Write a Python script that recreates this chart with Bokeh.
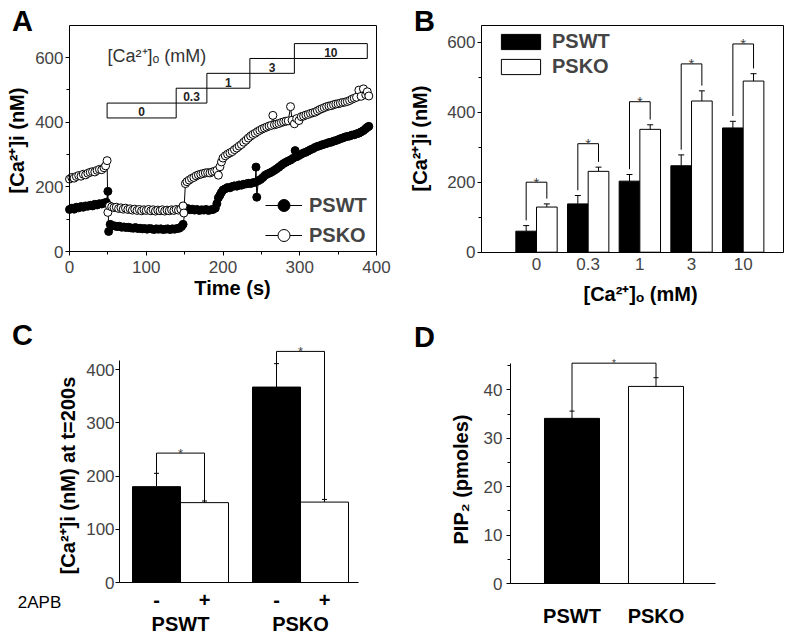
import numpy as np
from bokeh.plotting import figure
from bokeh.models import (Range1d, SingleIntervalTicker, FixedTicker, Label, Legend,
                          LegendItem, ColumnDataSource, Whisker, TeeHead, LinearAxis)
from bokeh.layouts import column, row
from bokeh.embed import file_html
from bokeh.resources import INLINE
from bokeh.core.properties import value

# ---------------- data ----------------
# Panel A: time course of [Ca2+]i (nM)
wt_t = [0, 3, 6, 9, 12, 15, 18, 21, 24, 27, 30, 33, 36, 39, 42, 45, 48, 50, 51, 53, 56, 59, 62, 65, 68,
        71, 74, 77, 80, 83, 86, 89, 92, 95, 98, 101, 104, 107, 110, 113, 116, 119, 122, 125, 128, 131,
        134, 137, 140, 143, 146, 148, 151, 154, 157, 160, 163, 166, 169, 172, 175, 178, 181, 184, 187,
        190, 192, 194, 196, 198, 200, 203, 206, 209, 212, 215, 218, 221, 224, 227, 230, 233, 236, 239,
        242, 243, 244, 246, 249, 252, 255, 258, 261, 264, 267, 270, 273, 276, 279, 282, 285, 288, 291,
        294, 296, 299, 302, 305, 308, 311, 314, 317, 320, 323, 326, 329, 332, 335, 338, 341, 344, 347,
        350, 353, 356, 359, 362, 365, 368, 371, 374, 377, 380, 383, 386, 388, 390]
wt_v = [130, 134, 131, 137, 135, 139, 137, 141, 140, 143, 141, 146, 144, 148, 147, 150, 152, 186, 62, 84,
        80, 79, 77, 78, 75, 76, 74, 75, 73, 72, 74, 71, 72, 70, 71, 69, 71, 70, 68, 70, 69, 70, 68, 69,
        70, 68, 70, 69, 71, 72, 77, 84, 131, 133, 129, 131, 128, 130, 127, 129, 128, 130, 127, 129, 130,
        134, 148, 166, 174, 183, 190, 194, 198, 197, 201, 203, 202, 206, 205, 208, 209, 211, 210, 213,
        214, 261, 168, 219, 223, 229, 236, 240, 243, 247, 251, 256, 261, 267, 272, 276, 280, 283, 288,
        312, 293, 297, 301, 305, 307, 311, 315, 318, 322, 325, 327, 330, 332, 334, 337, 338, 341, 343,
        346, 349, 351, 354, 356, 357, 360, 361, 364, 366, 370, 374, 380, 384, 387]
ko_t = [0, 3, 6, 9, 12, 15, 18, 21, 24, 27, 30, 33, 36, 39, 42, 45, 47, 49, 50, 52, 55, 58, 61, 64, 67,
        70, 73, 76, 79, 82, 85, 88, 91, 94, 97, 100, 103, 106, 109, 112, 115, 118, 121, 124, 127, 130,
        133, 136, 139, 142, 145, 148, 149, 151, 153, 156, 159, 162, 165, 168, 171, 174, 177, 180, 183,
        186, 189, 192, 194, 196, 198, 200, 203, 206, 209, 212, 215, 218, 221, 224, 227, 230, 233, 236,
        239, 242, 245, 248, 251, 254, 257, 260, 263, 265, 267, 270, 273, 276, 279, 282, 285, 288, 290,
        293, 296, 299, 302, 305, 308, 311, 314, 317, 320, 323, 326, 329, 332, 335, 338, 341, 344, 347,
        350, 353, 356, 359, 362, 365, 368, 371, 374, 377, 380, 383, 386, 388, 390]
ko_v = [224, 229, 227, 232, 235, 233, 239, 237, 242, 245, 247, 246, 251, 254, 253, 259, 265, 281, 121,
        141, 138, 136, 137, 133, 135, 131, 134, 130, 132, 128, 131, 127, 130, 126, 129, 127, 130, 126,
        129, 125, 128, 126, 129, 125, 128, 126, 129, 127, 130, 128, 131, 141, 119, 210, 216, 221, 226,
        229, 234, 237, 239, 241, 243, 244, 243, 246, 248, 251, 236, 262, 277, 289, 296, 301, 305, 309,
        315, 320, 326, 331, 338, 344, 351, 357, 362, 366, 371, 375, 379, 382, 385, 388, 390, 421, 392,
        394, 396, 399, 401, 403, 404, 448, 406, 395, 411, 405, 417, 419, 422, 424, 427, 429, 431, 435,
        439, 442, 445, 448, 450, 451, 454, 456, 457, 459, 461, 462, 464, 467, 471, 474, 477, 499, 480,
        503, 485, 494, 481]
# extracellular Ca2+ steps (mM) and their time windows (s)
step_labels = ["0", "0.3", "1", "3", "10"]
step_start = [49, 139, 179, 235, 293]
step_end = [139, 179, 235, 293, 388]

# Panel B: [Ca2+]i (nM) vs [Ca2+]o
ca_levels = ["0", "0.3", "1", "3", "10"]
b_wt = [60, 138, 203, 247, 355]
b_wt_sem = [16, 24, 19, 31, 19]
b_ko = [129, 231, 351, 432, 489]
b_ko_sem = [9, 12, 13, 29, 21]
b_sig = [200, 310, 430, 538, 595]

# Panel C: [Ca2+]i at t=200 s, without / with 2APB
c_groups = ["PSWT", "PSKO"]
c_minus = [180, 367]
c_minus_sem = [25, 44]
c_plus = [150, 151]
c_plus_sem = [3, 5]
c_sig = [243, 434]

# Panel D: PIP2 (pmoles)
d_groups = ["PSWT", "PSKO"]
d_pip2 = [34.1, 40.7]
d_sem = [1.5, 1.8]
d_sig = 45.5

# ---------------- helpers ----------------
FONT = "Liberation Sans"
TICK_COLOR = "#444444"


def lin(p0, p1, d0, d1, px):
    return d0 + (px - p0) * (d1 - d0) / (p1 - p0)


class Panel:
    """A figure whose frame fills the whole figure; px/py are page pixels."""

    def __init__(self, x0, y0, w, h, xmap, ymap):
        self.x0, self.y0, self.w, self.h = x0, y0, w, h
        xr = (lin(*xmap, x0), lin(*xmap, x0 + w))
        yr = (lin(*ymap, y0 + h), lin(*ymap, y0))
        p = figure(width=w, height=h, x_range=Range1d(*xr), y_range=Range1d(*yr),
                   output_backend="svg", toolbar_location=None, min_border=0)
        p.min_border_left = p.min_border_right = p.min_border_top = p.min_border_bottom = 0
        p.title.visible = False
        p.grid.visible = False
        p.outline_line_color = None
        p.background_fill_color = "white"
        p.border_fill_color = "white"
        self.p = p

    def style_axis(self, ax, fixed, bounds):
        ax.fixed_location = fixed
        ax.bounds = bounds
        ax.axis_line_color = "black"
        ax.axis_line_width = 1
        ax.major_tick_line_color = "black"
        ax.minor_tick_line_color = "black"
        ax.major_tick_out = 4
        ax.major_tick_in = 0
        ax.minor_tick_out = 3
        ax.minor_tick_in = 0
        ax.major_label_text_font = FONT
        ax.major_label_text_font_size = "17px"
        ax.major_label_text_color = TICK_COLOR

    def plain_axis(self, side, fixed, bounds):
        ax = LinearAxis(ticker=FixedTicker(ticks=[]), fixed_location=fixed, bounds=bounds,
                        axis_line_color="black", major_tick_line_color=None,
                        minor_tick_line_color=None, major_label_text_font_size="0px")
        self.p.add_layout(ax, side)

    def label(self, px, py, text, size="20px", bold=True, angle=0.0, align="center",
              color="black", data_x=None):
        if data_x is None:
            x, xu = px - self.x0, "screen"
        else:
            x, xu = data_x, "data"
        self.p.add_layout(Label(x=x, y=self.y0 + self.h - py, x_units=xu, y_units="screen",
                                text=text, text_font=FONT, text_font_size=size,
                                text_font_style="bold" if bold else "normal",
                                text_color=color, text_align=align, text_baseline="middle",
                                angle=angle))


def whiskers(p, x, val, sem, head):
    src = ColumnDataSource(dict(x=list(x), lo=list(val),
                                hi=[v + s for v, s in zip(val, sem)]))
    w = Whisker(source=src, base="x", lower="lo", upper="hi", dimension="height",
                line_color="black", line_width=1,
                upper_head=TeeHead(size=head, line_color="black", line_width=1),
                lower_head=None)
    p.add_layout(w)


# ---------------- Panel A ----------------
A = Panel(0, 0, 400, 316, (69, 376, 0, 400), (251, 57, 0, 600))
pA = A.p
A.style_axis(pA.xaxis[0], 0, (0, 400))
A.style_axis(pA.yaxis[0], 0, (0, 699))
pA.xaxis.ticker = SingleIntervalTicker(interval=100, num_minor_ticks=2)
pA.yaxis.ticker = SingleIntervalTicker(interval=200, num_minor_ticks=2)
pA.yaxis.major_label_standoff = 2
A.plain_axis("above", 699, (0, 400))
A.plain_axis("right", 400, (0, 699))

box_b = [413 + 46 * i for i in range(len(step_labels))]
pA.quad(left=step_start, right=step_end, bottom=box_b, top=[b + 46 for b in box_b],
        fill_color=None, line_color="black", line_width=1)
pA.text(x=[(s + e) / 2 for s, e in zip(step_start, step_end)], y=[b + 19 for b in box_b],
        text=step_labels, text_font=value(FONT), text_font_size="12px",
        text_font_style="bold", text_align="center", text_baseline="middle",
        text_color="#222222")

wt_line = pA.line(wt_t, wt_v, line_color="black", line_width=1)
wt_pts = pA.scatter(wt_t, wt_v, size=8, marker="circle", fill_color="black",
                    line_color="black", line_width=1)
ko_line = pA.line(ko_t, ko_v, line_color="black", line_width=1)
ko_pts = pA.scatter(ko_t, ko_v, size=8, marker="circle", fill_color="white",
                    line_color="black", line_width=1)

legA = Legend(items=[LegendItem(label="PSWT", renderers=[wt_line, wt_pts]),
                     LegendItem(label="PSKO", renderers=[ko_line, ko_pts])],
              location=(265, 316 - 250), glyph_width=37, glyph_height=30, label_height=30,
              spacing=-8, padding=0, margin=0, label_standoff=7,
              label_text_font=FONT, label_text_font_size="20px",
              label_text_font_style="bold", background_fill_alpha=0,
              border_line_color=None)
pA.add_layout(legA)

A.label(107, 55, "[Ca²⁺]ₒ (mM)", size="18px", bold=False, align="left", color="#333333")
A.label(232, 287, "Time (s)")
A.label(16, 140, "[Ca²⁺]i (nM)", angle=np.pi / 2)
A.label(22, 20, "A", size="29px")

# ---------------- Panel B ----------------
B = Panel(400, 0, 400, 316, (536, 742.7, 0, 4), (251.7, 41.7, 0, 600))
pB = B.p
B.style_axis(pB.xaxis[0], 0, (-1.064, 4.78))
B.style_axis(pB.yaxis[0], -1.064, (0, 648))
pB.yaxis.ticker = SingleIntervalTicker(interval=200, num_minor_ticks=2)
pB.yaxis.major_label_standoff = 2
bx = np.arange(len(ca_levels))
pB.xaxis.ticker = FixedTicker(ticks=[float(v) for v in bx])
pB.xaxis.major_label_overrides = {float(i): lab for i, lab in enumerate(ca_levels)}
pB.xaxis.major_tick_out = 0
pB.xaxis.minor_tick_line_color = None
pB.xaxis.major_tick_line_color = None
pB.xaxis.major_label_standoff = 6
B.plain_axis("above", 648, (-1.064, 4.78))
B.plain_axis("right", 4.78, (0, 648))

wt_bars = pB.vbar(x=bx - 0.2, top=b_wt, width=0.4, fill_color="black", line_color="black")
ko_bars = pB.vbar(x=bx + 0.2, top=b_ko, width=0.4, fill_color="white", line_color="black")
whiskers(pB, bx - 0.2, b_wt, b_wt_sem, 6)
whiskers(pB, bx + 0.2, b_ko, b_ko_sem, 6)

br_xs, br_ys = [], []
for i in range(len(ca_levels)):
    xl, xr = bx[i] - 0.2, bx[i] + 0.2
    br_xs.append([xl, xl, xr, xr])
    br_ys.append([b_wt[i] + b_wt_sem[i] + 15, b_sig[i], b_sig[i], b_ko[i] + b_ko_sem[i] + 15])
pB.multi_line(xs=br_xs, ys=br_ys, line_color="black", line_width=1)
pB.text(x=list(bx), y=b_sig, text=["*"] * len(ca_levels), text_font=value(FONT),
        text_font_size="15px", text_align="center", text_baseline="alphabetic",
        text_color="#444444")

legB = Legend(items=[LegendItem(label="PSWT", renderers=[wt_bars]),
                     LegendItem(label="PSKO", renderers=[ko_bars])],
              location=(96, 316 - 77.5), glyph_width=49, glyph_height=19, label_height=19,
              spacing=2, padding=0, margin=0, label_standoff=7,
              label_text_font=FONT, label_text_font_size="20px",
              label_text_font_style="bold", background_fill_alpha=0,
              border_line_color=None)
pB.add_layout(legB)

B.label(640, 293, "[Ca²⁺]ₒ (mM)")
B.label(419, 138, "[Ca²⁺]i (nM)", angle=np.pi / 2)
B.label(424, 20, "B", size="29px")

# ---------------- Panel C ----------------
C = Panel(0, 316, 400, 319, (156, 324, 0, 3.5), (582, 369, 0, 400))
pC = C.p
C.style_axis(pC.xaxis[0], 0, (-0.77, 4.21))
C.style_axis(pC.yaxis[0], -0.77, (0, 417))
pC.yaxis.ticker = SingleIntervalTicker(interval=100, num_minor_ticks=0)
pC.yaxis.major_label_standoff = 1
cx_minus = [2.5 * g for g in range(len(c_groups))]
cx_plus = [2.5 * g + 1 for g in range(len(c_groups))]
pC.xaxis.ticker = FixedTicker(ticks=sorted(cx_minus + cx_plus))
ov = {}
for a, b in zip(cx_minus, cx_plus):
    ov[float(a)] = "-"
    ov[float(b)] = "+"
pC.xaxis.major_label_overrides = ov
pC.xaxis.major_tick_out = 0
pC.xaxis.major_tick_line_color = None
pC.xaxis.minor_tick_line_color = None
pC.xaxis.major_label_standoff = 10
pC.xaxis.major_label_text_font_size = "20px"
pC.xaxis.major_label_text_font_style = "bold"
pC.xaxis.major_label_text_color = "black"

pC.vbar(x=cx_minus, top=c_minus, width=1.0, fill_color="black", line_color="black")
pC.vbar(x=cx_plus, top=c_plus, width=1.0, fill_color="white", line_color="black")
whiskers(pC, cx_minus, c_minus, c_minus_sem, 5)
whiskers(pC, cx_plus, c_plus, c_plus_sem, 5)
cbx, cby = [], []
for g in range(len(c_groups)):
    cbx.append([cx_minus[g], cx_minus[g], cx_plus[g], cx_plus[g]])
    cby.append([c_minus[g] + c_minus_sem[g], c_sig[g], c_sig[g], c_plus[g] + c_plus_sem[g]])
pC.multi_line(xs=cbx, ys=cby, line_color="black", line_width=1)
pC.text(x=[(a + b) / 2 for a, b in zip(cx_minus, cx_plus)], y=c_sig, text=["*"] * 2,
        text_font=value(FONT), text_font_size="13px", text_align="center",
        text_baseline="alphabetic", text_color="#444444")

C.label(39, 602, "2APB", size="17px", bold=False)
for g, name in enumerate(c_groups):
    C.label(0, 623, name, data_x=(cx_minus[g] + cx_plus[g]) / 2)
C.label(67, 475, "[Ca²⁺]i (nM) at t=200s", angle=np.pi / 2)
C.label(22, 334, "C", size="29px")

# ---------------- Panel D ----------------
D = Panel(400, 316, 400, 319, (571.5, 655.5, 0, 1), (583, 389.3, 0, 40))
pD = D.p
D.style_axis(pD.xaxis[0], 0, (-0.732, 1.708))
D.style_axis(pD.yaxis[0], -0.732, (0, 45.5))
pD.yaxis.ticker = SingleIntervalTicker(interval=10, num_minor_ticks=2)
pD.yaxis.major_label_standoff = 4
pD.xaxis.ticker = FixedTicker(ticks=[])
pD.xaxis.major_tick_line_color = None
pD.xaxis.minor_tick_line_color = None
dx = list(range(len(d_groups)))
pD.vbar(x=dx, top=d_pip2, width=0.655, fill_color=["black", "white"], line_color="black")
whiskers(pD, dx, d_pip2, d_sem, 5)
pD.multi_line(xs=[[dx[0], dx[0], dx[1], dx[1]]],
              ys=[[d_pip2[0] + d_sem[0], d_sig, d_sig, d_pip2[1] + d_sem[1]]],
              line_color="black", line_width=1)
pD.text(x=[(dx[0] + dx[1]) / 2], y=[d_sig], text=["*"], text_font=value(FONT),
        text_font_size="10px", text_align="center", text_baseline="alphabetic",
        text_color="#444444")
for i, name in enumerate(d_groups):
    D.label(0, 615, name, data_x=dx[i])
D.label(460, 479, "PIP₂ (pmoles)", angle=np.pi / 2)
D.label(424, 336, "D", size="29px")

layout = column(row(pA, pB), row(pC, pD))
open("out.html", "w").write(file_html(layout, INLINE, title="Figure"))
